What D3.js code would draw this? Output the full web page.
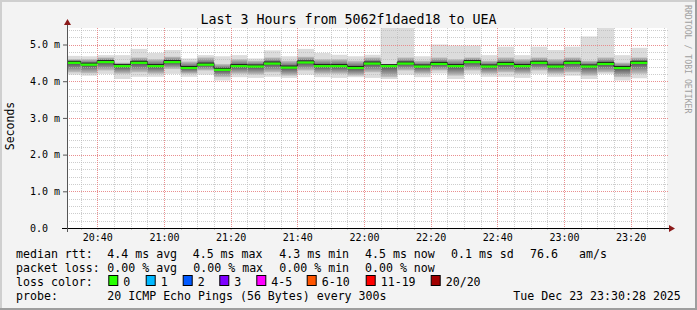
<!DOCTYPE html>
<html>
<head>
<meta charset="utf-8">
<script src="https://cdn.jsdelivr.net/npm/d3@7"></script>
<style>
  body { margin: 0; background: #f3f3f3; }
  svg text { font-family: "DejaVu Sans Mono", monospace; fill: #000; }
</style>
</head>
<body>
<div id="chart"></div>
<script>
// 5 minute steps (start of each step)
const times = ["20:30","20:35","20:40","20:45","20:50","20:55","21:00","21:05","21:10","21:15",
  "21:20","21:25","21:30","21:35","21:40","21:45","21:50","21:55","22:00","22:05",
  "22:10","22:15","22:20","22:25","22:30","22:35","22:40","22:45","22:50","22:55",
  "23:00","23:05","23:10","23:15","23:20"];

// median rtt, ms
const median = [4.50,4.45,4.52,4.41,4.50,4.41,4.52,4.36,4.45,4.31,
  4.41,4.40,4.48,4.37,4.51,4.41,4.41,4.36,4.48,4.41,
  4.48,4.40,4.47,4.41,4.52,4.40,4.47,4.41,4.50,4.40,
  4.50,4.40,4.47,4.36,4.50];

// smoke: slowest / fastest ping, ms
const smokeMax = [4.69,4.68,4.71,4.71,4.88,4.77,4.85,4.62,4.71,4.68,
  4.71,4.62,4.84,4.68,4.88,4.77,4.72,4.68,4.72,5.60,
  5.60,4.68,5.00,4.97,4.97,4.71,4.94,4.71,4.94,4.85,
  4.94,5.22,5.60,4.71,4.91];
const smokeMin = [4.18,4.15,4.20,4.06,4.12,4.12,4.20,4.12,4.18,4.02,
  4.11,4.09,4.12,4.09,4.18,4.11,4.09,4.11,4.09,4.06,
  4.18,4.11,4.21,4.06,4.20,4.12,4.12,4.09,4.20,4.12,
  4.15,4.06,4.20,4.02,4.08];

// smoke: dense core (upper / lower), ms
const coreHi = [4.60,4.60,4.65,4.51,4.65,4.60,4.67,4.54,4.65,4.47,
  4.60,4.56,4.65,4.56,4.67,4.60,4.60,4.56,4.65,4.47,
  4.65,4.56,4.65,4.60,4.65,4.56,4.65,4.60,4.65,4.60,
  4.65,4.56,4.65,4.51,4.65];
const coreLo = [4.24,4.21,4.29,4.20,4.24,4.20,4.33,4.20,4.29,4.11,
  4.20,4.18,4.24,4.15,4.29,4.20,4.20,4.15,4.24,4.11,
  4.29,4.20,4.29,4.15,4.29,4.20,4.24,4.20,4.29,4.20,
  4.24,4.15,4.24,4.11,4.20];

const yTicks = [0, 1, 2, 3, 4, 5];

const legendRtt = ["4.4 ms avg", "4.5 ms max", "4.3 ms min", "4.5 ms now", "0.1 ms sd", "76.6", "am/s"];
const legendLoss = ["0.00 % avg", "0.00 % max", "0.00 % min", "0.00 % now"];
const lossLabels = ["0", "1", "2", "3", "4-5", "6-10", "11-19", "20/20"];
const lossColors = ["#26ff00", "#00b8ff", "#0059ff", "#7e00ff", "#ff00ff", "#ff5500", "#ff0000", "#a10000"];

const W = 697, H = 310;
const pl = 67, pr = 667, pt = 28, pb = 228;

const svg = d3.select("#chart").append("svg")
  .attr("width", W).attr("height", H);

// frame
svg.append("rect").attr("width", W).attr("height", H).attr("fill", "#f3f3f3");
svg.append("path").attr("d", `M0,${H} V0 H${W}`).attr("fill", "none")
  .attr("stroke", "#cfcfcf").attr("stroke-width", 4);
svg.append("path").attr("d", `M${W},0 V${H} H0`).attr("fill", "none")
  .attr("stroke", "#9e9e9e").attr("stroke-width", 4);

const parse = d3.timeParse("%Y-%m-%d %H:%M");
const t = times.map(s => parse("2025-12-23 " + s));

const x = d3.scaleTime()
  .domain([new Date(2025, 11, 23, 20, 30, 55), new Date(2025, 11, 23, 23, 30, 55)])
  .range([pl, pr]);
const y = d3.scaleLinear().domain([0, 5.45]).range([pb, pt]);

// canvas
svg.append("rect").attr("x", pl).attr("y", pt)
  .attr("width", pr - pl).attr("height", pb - pt).attr("fill", "#fff");

svg.append("clipPath").attr("id", "plot").append("rect")
  .attr("x", pl).attr("y", pt).attr("width", pr - pl).attr("height", pb - pt);

const defs = svg.append("defs");
function grad(id, a, b) {
  const g = defs.append("linearGradient").attr("id", id)
    .attr("x1", 0).attr("y1", 0).attr("x2", 0).attr("y2", 1);
  g.append("stop").attr("offset", "0%").attr("stop-color", a);
  g.append("stop").attr("offset", "100%").attr("stop-color", b);
}
grad("smokeUp", "#c4c4c4", "#505050");
grad("smokeDown", "#505050", "#c4c4c4");

// smoke
const smoke = svg.append("g").attr("clip-path", "url(#plot)");
const idx = d3.range(times.length);
const x0 = i => x(t[i]);
const x1 = i => x(d3.timeMinute.offset(t[i], 5));

smoke.selectAll(".outer").data(idx).join("rect")
  .attr("x", x0).attr("width", i => x1(i) - x0(i))
  .attr("y", i => y(smokeMax[i])).attr("height", i => y(smokeMin[i]) - y(smokeMax[i]))
  .attr("fill", "#dcdcdc");
smoke.selectAll(".upper").data(idx).join("rect")
  .attr("x", x0).attr("width", i => x1(i) - x0(i))
  .attr("y", i => y(coreHi[i])).attr("height", i => y(median[i]) - y(coreHi[i]))
  .attr("fill", "url(#smokeUp)");
smoke.selectAll(".lower").data(idx).join("rect")
  .attr("x", x0).attr("width", i => x1(i) - x0(i))
  .attr("y", i => y(median[i])).attr("height", i => y(coreLo[i]) - y(median[i]))
  .attr("fill", "url(#smokeDown)");

// grid
const grid = svg.append("g");
const yMinor = d3.range(0, 28).map(i => i * 0.2);
const xMinor = d3.timeMinute.every(5).range(x.domain()[0], x.domain()[1]);
const xMajor = d3.timeMinute.every(20).range(x.domain()[0], x.domain()[1]);

grid.selectAll(".hm").data(yMinor).join("line")
  .attr("x1", pl).attr("x2", pr + 2)
  .attr("y1", d => Math.round(y(d)) + 0.5).attr("y2", d => Math.round(y(d)) + 0.5)
  .attr("stroke", "#b8b8b8").attr("stroke-opacity", 0.7).attr("stroke-dasharray", "1,1");
grid.selectAll(".vm").data(xMinor).join("line")
  .attr("y1", pt).attr("y2", pb)
  .attr("x1", d => Math.round(x(d)) + 0.5).attr("x2", d => Math.round(x(d)) + 0.5)
  .attr("stroke", "#b8b8b8").attr("stroke-opacity", 0.7).attr("stroke-dasharray", "1,1");
grid.selectAll(".hM").data(yTicks).join("line")
  .attr("x1", pl).attr("x2", pr + 2)
  .attr("y1", d => Math.round(y(d)) + 0.5).attr("y2", d => Math.round(y(d)) + 0.5)
  .attr("stroke", "#f08080").attr("stroke-opacity", 0.8).attr("stroke-dasharray", "1,1");
grid.selectAll(".vM").data(xMajor).join("line")
  .attr("y1", pt).attr("y2", pb)
  .attr("x1", d => Math.round(x(d)) + 0.5).attr("x2", d => Math.round(x(d)) + 0.5)
  .attr("stroke", "#f08080").attr("stroke-opacity", 0.8).attr("stroke-dasharray", "1,1");

// median line
const steps = idx.map(i => [x0(i), y(median[i])]);
steps.push([x1(times.length - 1), y(median[times.length - 1])]);
const plotG = svg.append("g").attr("clip-path", "url(#plot)");
plotG.append("path")
  .attr("d", d3.line().curve(d3.curveStepAfter)(steps))
  .attr("transform", "translate(0,-1.5)")
  .attr("fill", "none").attr("stroke", "#1a1a1a").attr("stroke-width", 1);
plotG.selectAll(".med").data(idx).join("line")
  .attr("x1", x0).attr("x2", x1)
  .attr("y1", i => y(median[i])).attr("y2", i => y(median[i]))
  .attr("stroke", lossColors[0]).attr("stroke-width", 2.2);

// axes
const xAxis = svg.append("g").attr("transform", `translate(0,${pb})`)
  .call(d3.axisBottom(x).ticks(d3.timeMinute.every(20)).tickFormat(d3.timeFormat("%H:%M"))
    .tickSize(2).tickSizeOuter(0).tickPadding(4));
xAxis.select(".domain").remove();
xAxis.selectAll(".tick line").attr("stroke", "#e08080");
xAxis.selectAll("text").attr("font-size", 10).attr("font-family", "DejaVu Sans Mono");
svg.append("g").selectAll("line").data(xMinor).join("line")
  .attr("x1", d => Math.round(x(d)) + 0.5).attr("x2", d => Math.round(x(d)) + 0.5)
  .attr("y1", pb).attr("y2", pb + 2).attr("stroke", "#c8c8c8");

const yAxis = svg.append("g").attr("transform", `translate(${pl},0)`)
  .call(d3.axisLeft(y).tickValues(yTicks)
    .tickFormat(d => d === 0 ? "0.0" : d3.format(".1f")(d) + " m")
    .tickSize(4).tickSizeOuter(0));
yAxis.select(".domain").remove();
yAxis.selectAll(".tick line").attr("stroke", "#555");
yAxis.selectAll("text").attr("font-size", 10).attr("font-family", "DejaVu Sans Mono")
  .attr("text-anchor", "start").attr("x", -37);

// axis lines with arrows
svg.append("line").attr("x1", pl - 5).attr("x2", pr + 3)
  .attr("y1", pb + 0.5).attr("y2", pb + 0.5).attr("stroke", "#000");
svg.append("line").attr("x1", pl + 0.5).attr("x2", pl + 0.5)
  .attr("y1", pb + 4).attr("y2", pt - 4).attr("stroke", "#555");
svg.append("path").attr("d", `M${pr + 2},${pb - 3} L${pr + 8},${pb + 0.5} L${pr + 2},${pb + 4} Z`)
  .attr("fill", "#8b1a1a");
svg.append("path").attr("d", `M${pl - 3},${pt - 3} L${pl + 0.5},${pt - 9} L${pl + 4},${pt - 3} Z`)
  .attr("fill", "#8b1a1a");

// titles
svg.append("text").attr("x", 348.5).attr("y", 24).attr("text-anchor", "middle")
  .attr("font-size", 13.3).text("Last 3 Hours from 5062f1daed18 to UEA");
svg.append("text").attr("transform", "translate(14,126) rotate(-90)")
  .attr("text-anchor", "middle").attr("font-size", 11.5).text("Seconds");
svg.append("text").attr("transform", "translate(684.5,5) rotate(90)")
  .attr("font-size", 8.2).style("fill", "#a0a0a0").text("RRDTOOL / TOBI OETIKER");

// legend
const lg = svg.append("g").attr("font-size", 11.6);
const rowY = [258, 272, 286, 300];
lg.append("text").attr("x", 16).attr("y", rowY[0]).text("median rtt:");
const rttX = [107.3, 192.7, 279.3, 365, 451, 530, 579];
legendRtt.forEach((s, i) => lg.append("text").attr("x", rttX[i]).attr("y", rowY[0]).text(s));
lg.append("text").attr("x", 16).attr("y", rowY[1]).text("packet loss:");
const lossX = [107.3, 193.3, 279.3, 365];
legendLoss.forEach((s, i) => lg.append("text").attr("x", lossX[i]).attr("y", rowY[1]).text(s));
lg.append("text").attr("x", 16).attr("y", rowY[2]).text("loss color:");
const boxX = [108.3, 145.7, 182.7, 219.3, 256.3, 306.7, 365.7, 430.7];
lg.selectAll(".sw").data(lossLabels).join("rect")
  .attr("x", (d, i) => boxX[i] + 0.5).attr("y", 275.5).attr("width", 9).attr("height", 10)
  .attr("fill", (d, i) => lossColors[i]).attr("stroke", "#000");
lg.selectAll(".swt").data(lossLabels).join("text")
  .attr("x", (d, i) => boxX[i] + 15).attr("y", rowY[2]).text(d => d);
lg.append("text").attr("x", 16).attr("y", rowY[3]).text("probe:");
lg.append("text").attr("x", 107.3).attr("y", rowY[3]).text("20 ICMP Echo Pings (56 Bytes) every 300s");
lg.append("text").attr("x", 513.3).attr("y", rowY[3]).text("Tue Dec 23 23:30:28 2025");
</script>
</body>
</html>
